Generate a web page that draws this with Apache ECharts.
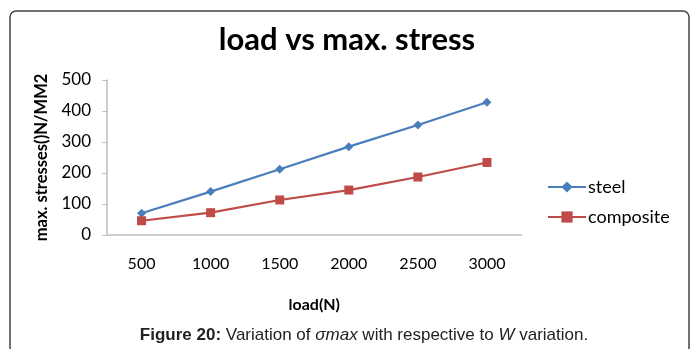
<!DOCTYPE html>
<html><head><meta charset="utf-8">
<script src="https://cdn.jsdelivr.net/npm/echarts@6/dist/echarts.min.js"></script>
<style>html,body{margin:0;padding:0;background:#fff}#c{width:695px;height:349px}</style>
</head><body><div id="c"></div>
<script>
var categories = ['500','1000','1500','2000','2500','3000'];
var steel = [70, 140, 212, 285, 355, 428];
var composite = [46, 72, 113, 145, 187, 234];
var yTicks = [0, 100, 200, 300, 400, 500];

var chart = echarts.init(document.getElementById('c'));
chart.setOption({
  animation: false,
  title: {text: 'load vs max. stress', left: 342, textAlign: 'center', top: 19,
    textStyle: {fontFamily: 'Lato', fontWeight: 'bold', fontSize: 31, color: '#000'}},
  grid: {left: 107, right: 173.5, top: 80, bottom: 114},
  legend: {orient: 'vertical', left: 542, top: 173, itemGap: 12, itemWidth: 38, itemHeight: 14,
    textStyle: {fontFamily: 'Lato', fontSize: 18, color: '#000', padding: [0,0,0,-3]},
    data: ['steel','composite']},
  xAxis: {type: 'category', data: categories, boundaryGap: true,
    axisLine: {lineStyle: {color: '#bfbfbf', width: 1.5}}, axisTick: {show: false},
    axisLabel: {fontFamily: 'Lato', fontSize: 16, color: '#000', margin: 21},
    name: 'load(N)', nameLocation: 'middle', nameGap: 62,
    nameTextStyle: {fontFamily: 'Lato', fontWeight: 'bold', fontSize: 16, color: '#000'}},
  yAxis: {type: 'value', min: yTicks[0], max: yTicks[yTicks.length-1], interval: 100,
    splitLine: {show: false},
    axisLine: {show: true, lineStyle: {color: '#bfbfbf', width: 1.5}},
    axisTick: {show: true, length: 5, lineStyle: {color: '#bfbfbf'}},
    axisLabel: {fontFamily: 'Lato', fontSize: 17, color: '#000', margin: 16},
    name: 'max. stresses()N/MM2', nameLocation: 'middle', nameGap: 54, nameRotate: 90,
    nameTextStyle: {fontFamily: 'Lato', fontWeight: 'bold', fontSize: 16.5, color: '#000'}},
  series: [
    {name: 'steel', type: 'line', data: steel, symbol: 'diamond', symbolSize: 9,
      itemStyle: {color: '#4a7ebb'}, lineStyle: {color: '#4a7ebb', width: 2.2}},
    {name: 'composite', type: 'line', data: composite, symbol: 'rect', symbolSize: 9,
      itemStyle: {color: '#be4b48'}, lineStyle: {color: '#be4b48', width: 2.2}}
  ],
  graphic: [
    {type: 'rect', shape: {x: 10, y: 11, width: 679, height: 360, r: 6},
      style: {fill: 'none', stroke: '#444', lineWidth: 1.5}},
    {type: 'text', x: 364, y: 327,
      style: {text: '{b|Figure 20:} Variation of {i|σmax} with respective to {i|W} variation.',
        align: 'center', fontFamily: 'Liberation Sans', fontSize: 17, fill: '#222',
        rich: {b: {fontFamily: 'Liberation Sans', fontWeight: 'bold', fontSize: 17, fill: '#222'},
               i: {fontFamily: 'Liberation Sans', fontStyle: 'italic', fontSize: 17, fill: '#222'}}}}
  ]
});
</script></body></html>
